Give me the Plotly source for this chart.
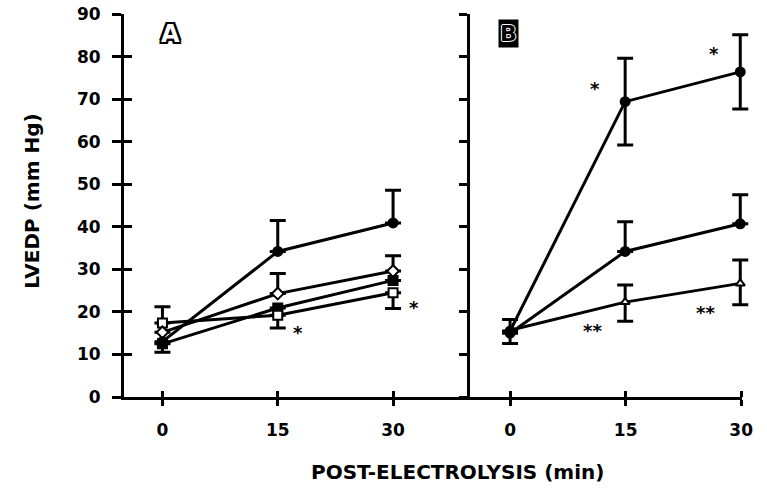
import plotly.graph_objects as go

# ---- data ----
times = [0, 15, 30]
x_ticks = [0, 15, 30]
y_ticks = [0, 10, 20, 30, 40, 50, 60, 70, 80, 90]

# Panel A
a_fill_circle = [13, 34.2, 40.9]
a_fill_circle_up = [0, 7.3, 7.7]
a_open_diamond = [15.2, 24.3, 29.6]
a_open_diamond_up = [0, 4.7, 3.6]
a_fill_square = [12.5, 20.9, 27.4]
a_fill_square_dn = [2.0, 0, 0]
a_open_square = [17.4, 19.2, 24.5]
a_open_square_up = [3.8, 0, 0]
a_open_square_dn = [0, 3.0, 3.7]

# Panel B
b_top = [15.5, 69.4, 76.4]
b_top_err = [0, 10.2, 8.7]
b_mid = [15.0, 34.2, 40.7]
b_mid_up = [0, 7.0, 6.8]
b_low = [15.7, 22.3, 26.7]
b_low_up = [2.5, 4.0, 5.5]
b_low_dn = [3.1, 4.5, 5.0]

# significance marks: (text, x, y)
a_marks = [("*", 17.6, 16.2), ("*", 32.7, 22.0)]
b_marks = [("*", 11.1, 73.4), ("*", 26.6, 81.6), ("**", 10.7, 16.6), ("**", 25.5, 20.8)]

FONT = "DejaVu Sans"
LW = 3

def err(up, dn=None):
    if dn is None:
        dn = [0] * len(up)
    return dict(type="data", symmetric=False, array=up, arrayminus=dn,
                color="black", thickness=3, width=8)

fig = go.Figure()

def add(x, y, xa, ya, symbol, fill, e, size=9):
    fig.add_trace(go.Scatter(
        x=x, y=y, xaxis=xa, yaxis=ya, mode="lines+markers",
        line=dict(color="black", width=LW),
        marker=dict(symbol=symbol, size=size, color=fill,
                    line=dict(color="black", width=2)),
        error_y=e, showlegend=False, hoverinfo="skip", cliponaxis=False))

# Panel A
add(times, a_fill_square, "x", "y", "square", "black", err([0, 0, 0], a_fill_square_dn))
add(times, a_open_square, "x", "y", "square", "white", err(a_open_square_up, a_open_square_dn))
add(times, a_open_diamond, "x", "y", "diamond", "white", err(a_open_diamond_up))
add(times, a_fill_circle, "x", "y", "circle", "black", err(a_fill_circle_up))

# Panel B
add(times, b_low, "x2", "y2", "triangle-up", "white", err(b_low_up, b_low_dn), size=8)
add(times, b_mid, "x2", "y2", "circle", "black", err(b_mid_up))
add(times, b_top, "x2", "y2", "circle", "black", err(b_top_err, b_top_err))

# empty traces to register the extra axes (axis line of B, inner tick halves)
fig.add_trace(go.Scatter(x=[], y=[], xaxis="x3", yaxis="y3", showlegend=False))
fig.add_trace(go.Scatter(x=[], y=[], xaxis="x4", yaxis="y2", showlegend=False))
fig.add_trace(go.Scatter(x=[], y=[], xaxis="x5", yaxis="y2", showlegend=False))

PW = 639  # plot-area width in px (124 .. 763)
dA = (476 - 124) / PW
dB_line = (753 - 124) / PW
xr_a = [-5, 40]
xr_b_line = [-5.23, 30.13]
xr_b_data = [-5.23, 31.53]
yr = [0, 90]
tickfont = dict(family=FONT, size=17, color="black", weight="bold")

common = dict(showgrid=False, zeroline=False, linecolor="black", tickcolor="black")

fig.update_layout(
    width=767, height=488,
    margin=dict(l=124, r=4, t=12, b=91),
    paper_bgcolor="white", plot_bgcolor="rgba(0,0,0,0)",
    xaxis=dict(domain=[0, dA], range=xr_a, anchor="y", tickmode="array",
               tickvals=x_ticks, ticks="outside", ticklen=6, tickwidth=3,
               showline=True, linewidth=3, tickfont=tickfont,
               ticklabelstandoff=10, **common),
    xaxis2=dict(domain=[dA, 1], range=xr_b_data, anchor="y2",
                showline=False, ticks="", showticklabels=False, **common),
    xaxis3=dict(overlaying="x", range=xr_a, anchor="y", tickmode="array",
                tickvals=x_ticks, ticks="inside", ticklen=6, tickwidth=3,
                showline=False, showticklabels=False, **common),
    xaxis4=dict(domain=[dA, dB_line], range=xr_b_line, anchor="y2", tickmode="array",
                tickvals=x_ticks, ticks="outside", ticklen=6, tickwidth=3,
                showline=True, linewidth=3, tickfont=tickfont,
                ticklabelstandoff=10, **common),
    xaxis5=dict(overlaying="x4", range=xr_b_line, anchor="y2", tickmode="array",
                tickvals=x_ticks, ticks="inside", ticklen=6, tickwidth=3,
                showline=False, showticklabels=False, **common),
    yaxis=dict(domain=[0, 1], range=yr, anchor="x", tickmode="array",
               tickvals=y_ticks, ticks="outside", ticklen=9, tickwidth=3,
               showline=True, linewidth=3, tickfont=tickfont,
               ticklabelstandoff=8, **common),
    yaxis2=dict(domain=[0, 1], range=yr, anchor="x2", tickmode="array",
                tickvals=y_ticks, ticks="outside", ticklen=8, tickwidth=3,
                showline=True, linewidth=3, showticklabels=False, **common),
    yaxis3=dict(overlaying="y", range=yr, anchor="x", tickmode="array",
                tickvals=y_ticks, ticks="inside", ticklen=8, tickwidth=3,
                showline=False, showticklabels=False, **common),
)

ann_font = dict(family=FONT, size=18, color="black", weight="bold")
for t, x, y in a_marks:
    fig.add_annotation(text=t, x=x, y=y, xref="x", yref="y", showarrow=False,
                       font=ann_font, yshift=-4)
for t, x, y in b_marks:
    fig.add_annotation(text=t, x=x, y=y, xref="x2", yref="y2", showarrow=False,
                       font=ann_font, yshift=-4)

# axis titles
fig.add_annotation(text="LVEDP (mm Hg)", x=(30 - 124) / PW, y=(397 - 200) / 385,
                   xref="paper", yref="paper", textangle=-90, showarrow=False,
                   xanchor="center", yanchor="middle",
                   font=dict(family=FONT, size=20, color="black", weight="bold"))
fig.add_annotation(text="POST-ELECTROLYSIS (min)", x=(463 - 124) / PW,
                   y=(397 - 472) / 385, xref="paper", yref="paper",
                   showarrow=False, xanchor="center", yanchor="middle",
                   font=dict(family=FONT, size=20, color="black", weight="bold"))

# panel letters
outline = ", ".join(f"{dx}px {dy}px 0 #000" for dx, dy in
                    [(2, 0), (-2, 0), (0, 2), (0, -2), (2, 2), (-2, -2), (2, -2), (-2, 2)])
fig.add_annotation(text="A", x=(171 - 124) / PW, y=(397 - 32) / 385,
                   xref="paper", yref="paper", showarrow=False,
                   xanchor="center", yanchor="middle",
                   font=dict(family=FONT, size=24, color="white", weight="bold",
                             shadow=outline))
outline_w = ", ".join(f"{dx}px {dy}px 0 #fff" for dx, dy in
                      [(1, 0), (-1, 0), (0, 1), (0, -1)])
fig.add_annotation(text="B", x=(515 - 124) / PW, y=(397 - 32) / 385,
                   xref="paper", yref="paper", showarrow=False,
                   xanchor="center", yanchor="middle", bgcolor="black",
                   borderpad=1,
                   font=dict(family=FONT, size=22, color="black", weight="bold",
                             shadow=outline_w))

fig.write_html("out.html", config={"displayModeBar": False},
               post_script="document.body.style.margin='0';"
                           "document.body.style.overflow='hidden';")
